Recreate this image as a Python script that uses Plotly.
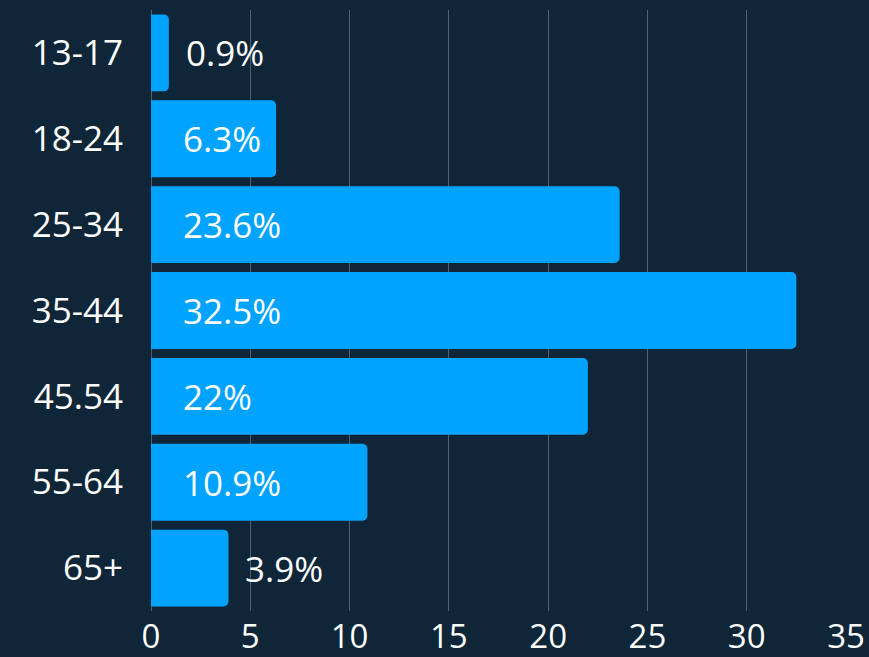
import plotly.graph_objects as go

categories = ["13-17", "18-24", "25-34", "35-44", "45.54", "55-64", "65+"]
values = [0.9, 6.3, 23.6, 32.5, 22, 10.9, 3.9]
labels = ["0.9%", "6.3%", "23.6%", "32.5%", "22%", "10.9%", "3.9%"]
x_ticks = [0, 5, 10, 15, 20, 25, 30, 35]

FONT = "Open Sans"
FS = 35
BAR = "#00A3FF"
BG = "#0f2538"

fig = go.Figure()
fig.add_trace(go.Bar(
    y=categories, x=values, orientation="h",
    marker=dict(color=BAR, line=dict(width=0)),
    hoverinfo="skip",
))

annotations = []
for i, (v, lab) in enumerate(zip(values, labels)):
    inside = v > 5
    annotations.append(dict(
        x=0 if inside else v, y=i, xref="x", yref="y",
        text=lab, showarrow=False, xanchor="left", yanchor="middle",
        xshift=30 if inside else 15,
        font=dict(family=FONT, size=FS, color="white"),
    ))

fig.update_layout(
    width=869, height=657,
    margin=dict(l=151, r=23, t=10, b=46),
    paper_bgcolor=BG, plot_bgcolor=BG,
    bargap=0.105, barcornerradius=5,
    showlegend=False,
    annotations=annotations,
    font=dict(family=FONT, color="white", size=FS),
    xaxis=dict(
        range=[0, 35], tickvals=x_ticks, ticktext=[str(t) for t in x_ticks],
        showgrid=True, gridcolor="rgba(200,210,220,0.35)", gridwidth=1,
        zeroline=True, zerolinecolor="rgba(200,210,220,0.35)", zerolinewidth=1,
        showline=False, ticks="", ticklabelstandoff=3, automargin=False,
        tickfont=dict(family=FONT, size=33, color="white"),
        fixedrange=True,
    ),
    yaxis=dict(
        type="category",
        categoryorder="array", categoryarray=categories,
        range=[len(categories) - 0.5, -0.5], autorange=False,
        showgrid=False, zeroline=False, showline=False, ticks="",
        ticklabelstandoff=27, automargin=False,
        tickfont=dict(family=FONT, size=FS, color="white"),
        fixedrange=True,
    ),
)

fig.write_html("out.html")
